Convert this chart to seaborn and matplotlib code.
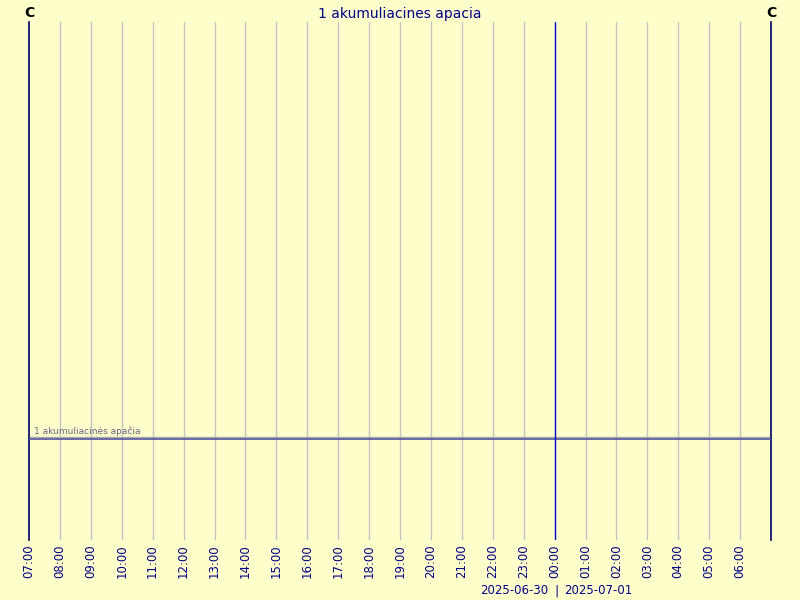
import pandas as pd
import matplotlib
matplotlib.use("Agg")
import matplotlib.pyplot as plt
import matplotlib.dates as mdates
import matplotlib.transforms as mtransforms
import seaborn as sns

# duomenys
TITLE = "1 akumuliacines apacia"
SERIES_LABEL = "1 akumuliacinės apačia"
START = "2025-06-30 07:00"
END = "2025-07-01 07:00"
HOURS = pd.date_range(START, periods=24, freq="h")
SERIES_TIME = [pd.Timestamp(START), pd.Timestamp(END)]
SERIES_VALUE = [19.5, 19.5]
Y_MIN, Y_MAX = 0, 100
DAY_LEFT = "2025-06-30"
DAY_RIGHT = "2025-07-01"

BG = "#FFFFCC"
NAVY = "#00008B"

sns.set_style("white")
plt.rcParams['font.family'] = ['DejaVu Sans']

fig = plt.figure(figsize=(8, 6), dpi=100, facecolor=BG)
ax = fig.add_axes([29 / 800, 60 / 600, 742 / 800, 518 / 600], facecolor=BG)

df = pd.DataFrame({"time": SERIES_TIME, "value": SERIES_VALUE})

# tinklelis
for t in HOURS:
    if t.hour == 0:
        ax.axvline(t, color="#0000CC", lw=1, zorder=4)
    elif t != HOURS[0]:
        ax.axvline(t, color="#C4C4C4", lw=1, zorder=1)

# serija (dviguba linija)
shift = mtransforms.ScaledTranslation(0, 2 / 100, fig.dpi_scale_trans)
ax.plot(df["time"], df["value"], color="#AAAAAA", lw=1, zorder=2,
        transform=ax.transData + shift)
sns.lineplot(data=df, x="time", y="value", ax=ax, color="#5050A0", lw=1.2, zorder=3)
ax.text(SERIES_TIME[0] + pd.Timedelta(minutes=10), SERIES_VALUE[0] + 0.6, SERIES_LABEL,
        fontsize=6.5, color="#666688", va="bottom", ha="left")

ax.set_xlim(pd.Timestamp(START), pd.Timestamp(END))
ax.set_ylim(Y_MIN, Y_MAX)
for s in ["top", "bottom"]:
    ax.spines[s].set_visible(False)
for s in ["left", "right"]:
    ax.spines[s].set_color("#000060")
    ax.spines[s].set_linewidth(1.2)

ax.set_yticks([])
ax.set_xticks(HOURS)
ax.xaxis.set_major_formatter(mdates.DateFormatter("%H:%M"))
ax.tick_params(axis="x", length=0, pad=3, labelsize=8.5, labelcolor=NAVY, rotation=90)
ax.set_xlabel("")
ax.set_ylabel("")

fig.text(29 / 800, 1 - 13 / 600, "C", ha="center", va="center", fontsize=10,
         color="black", fontweight="bold")
fig.text(771 / 800, 1 - 13 / 600, "C", ha="center", va="center", fontsize=10,
         color="black", fontweight="bold")
fig.text(0.5, 1 - 14 / 600, TITLE, ha="center", va="center", fontsize=10, color=NAVY)

fig.text(548 / 800, 1 - 591 / 600, DAY_LEFT, ha="right", va="center", fontsize=8.5, color=NAVY)
fig.text(556 / 800, 1 - 591 / 600, "|", ha="center", va="center", fontsize=9, color=NAVY)
fig.text(564 / 800, 1 - 591 / 600, DAY_RIGHT, ha="left", va="center", fontsize=8.5, color=NAVY)

fig.savefig("out.png", dpi=100, facecolor=BG)
